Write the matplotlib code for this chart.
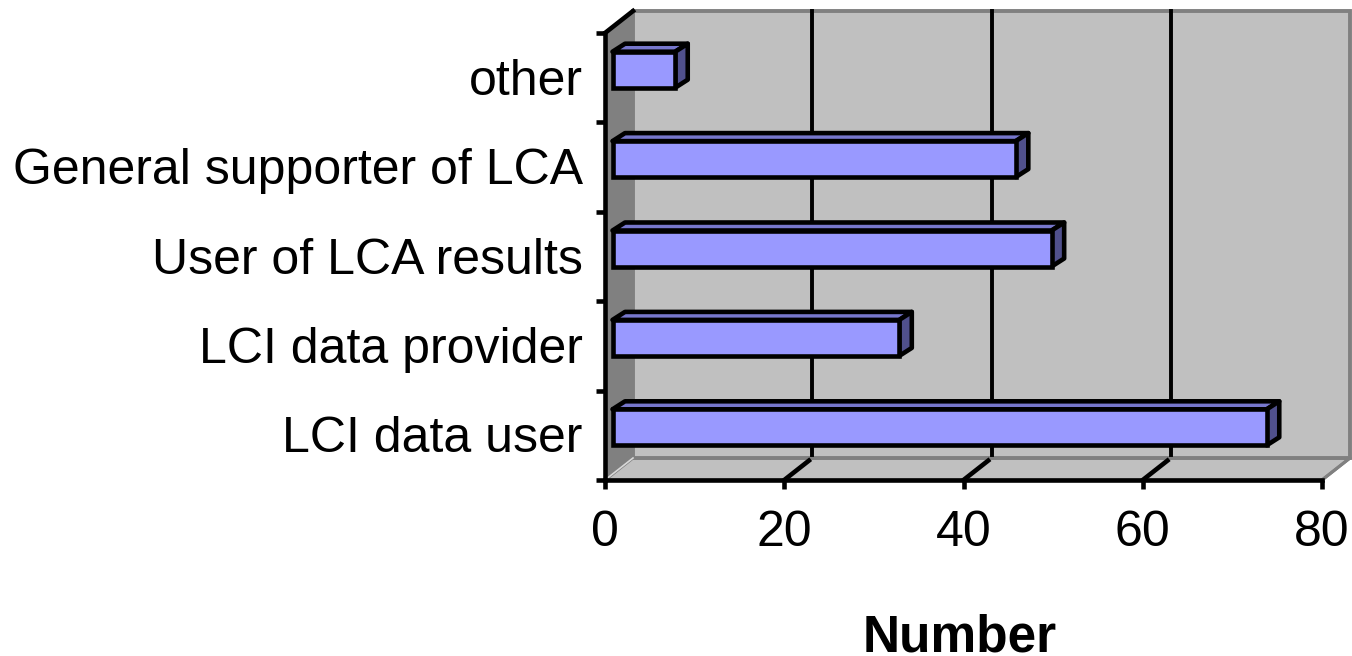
import matplotlib
matplotlib.use("Agg")
import matplotlib.pyplot as plt
from matplotlib.patches import Polygon

plt.rcParams['font.family'] = ['Liberation Sans', 'DejaVu Sans']

categories = ["LCI data user", "LCI data provider", "User of LCA results",
              "General supporter of LCA", "other"]
values = [73, 32, 49, 45, 7]
x_ticks = [0, 20, 40, 60, 80]

W, H = 1352, 656
fig = plt.figure(figsize=(W / 100, H / 100), dpi=100)
# axes box in pixels: x 605-1322, y 33-480
ax = fig.add_axes([605 / W, 1 - 480 / H, 717 / W, 447 / H])
ax.set_xlim(0, 80)
ax.set_ylim(-0.5, 4.5)

ux = 717 / 80   # px per x unit
uy = 447 / 5    # px per category
depth_x = 28 / ux
depth_y = 22 / uy
lw = 3.3


def poly(pts, **kw):
    kw.setdefault("clip_on", False)
    ax.add_patch(Polygon(pts, closed=True, **kw))


# walls and floor
y0, y1 = -0.5, 4.5
poly([(0, y0), (depth_x, y0 + depth_y), (depth_x, y1 + depth_y), (0, y1)],
     fc="#808080", ec="none", zorder=1)
poly([(0, y0), (80, y0), (80 + depth_x, y0 + depth_y), (depth_x, y0 + depth_y)],
     fc="#c0c0c0", ec="#808080", lw=2.2, zorder=1)
poly([(depth_x, y0 + depth_y), (80 + depth_x, y0 + depth_y),
      (80 + depth_x, y1 + depth_y), (depth_x, y1 + depth_y)],
     fc="#c0c0c0", ec="#808080", lw=2.8, zorder=1.1)
ax.plot([0, depth_x], [y1, y1 + depth_y], color="black", lw=lw, clip_on=False, zorder=3)
ax.plot([0, depth_x], [y0, y0 + depth_y], color="#d8d8d8", lw=1.2, clip_on=False, zorder=1.2)
ax.plot([80, 80 + depth_x], [y0, y0 + depth_y], color="#808080", lw=2.2, clip_on=False, zorder=1.2)

# gridlines on back wall + slanted bits on the floor
for t in x_ticks[1:-1]:
    ax.plot([t + depth_x] * 2, [y0 + depth_y + 0.03, y1 + depth_y], color="black",
            lw=lw * 0.85, clip_on=False, zorder=2)
    ax.plot([t, t + depth_x * 0.88], [y0, y0 + depth_y * 0.88], color="black",
            lw=lw, clip_on=False, zorder=2)

# bars, sitting a little way in from the front
bar_x = 7.5 / ux
bar_y = 8 / uy
bar_h = 36 / uy
bx = 12.5 / ux
by = 8 / uy
ypos = [i + bar_y for i in range(len(values))]
ax.barh(ypos, values, height=bar_h, left=bar_x, color="#9999ff",
        edgecolor="black", linewidth=lw, zorder=5)
for y, v in zip(ypos, values):
    x_end = bar_x + v
    top = y + bar_h / 2
    bot = y - bar_h / 2
    poly([(bar_x, top), (x_end, top), (x_end + bx, top + by), (bar_x + bx, top + by)],
         fc="#7777cc", ec="black", lw=lw, joinstyle="round", zorder=4)
    poly([(x_end, bot), (x_end + bx, bot + by), (x_end + bx, top + by), (x_end, top)],
         fc="#50508c", ec="black", lw=lw, joinstyle="round", zorder=4)

# axes
for s in ["top", "right"]:
    ax.spines[s].set_visible(False)
for s in ["left", "bottom"]:
    ax.spines[s].set_linewidth(lw)
    ax.spines[s].set_zorder(6)
ax.set_xticks(x_ticks)
ax.set_yticks([i - 0.5 for i in range(6)])
ax.set_yticklabels([])
ax.set_yticks([i + 1 / uy for i in range(len(categories))], minor=True)
ax.set_yticklabels(categories, minor=True, fontsize=36)
ax.tick_params(axis="y", which="major", length=6.5, width=lw)
ax.tick_params(axis="y", which="minor", length=0, pad=16)
ax.tick_params(axis="x", length=6.5, width=lw, labelsize=36, pad=15)
fig.text(960 / W, 1 - 651 / H, "Number", fontsize=37, fontweight="bold",
         ha="center", va="baseline")

fig.savefig("out.png", dpi=100)
